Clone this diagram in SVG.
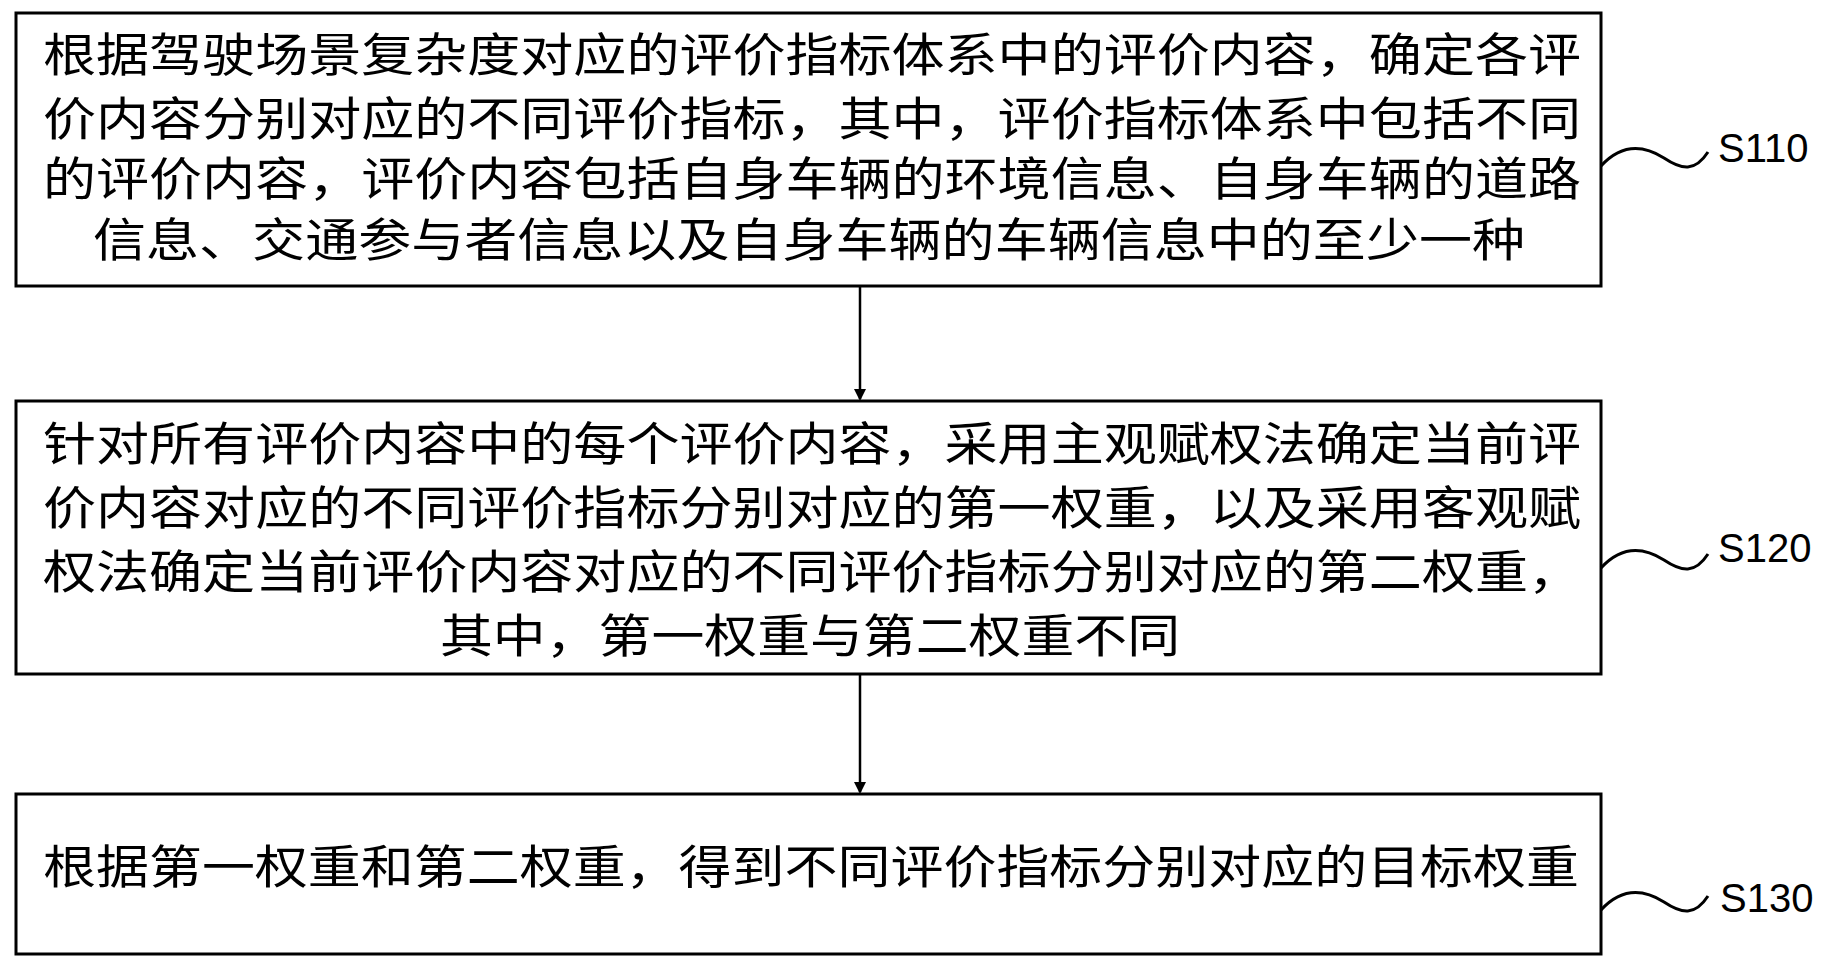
<svg xmlns="http://www.w3.org/2000/svg" width="1833" height="961" viewBox="0 0 1833 961">
<style>
.box{fill:#fff;stroke:#000;stroke-width:3}
.t{font-family:"Noto Sans CJK SC","Liberation Serif",serif;font-size:46px;fill:#000}
.lb{font-family:"Liberation Sans",sans-serif;font-size:40px;fill:#000}
.w{fill:none;stroke:#000;stroke-width:3}
.c{stroke:#000;stroke-width:2.5;fill:none}
</style>
<defs><marker id="a" markerWidth="12" markerHeight="12" refX="10" refY="6" orient="auto" markerUnits="userSpaceOnUse"><path d="M0,0 L12,6 L0,12 Z" fill="#000"/></marker></defs>
<rect width="1833" height="961" fill="#fff"/>
<g id="n1">
<rect class="box" x="16" y="13" width="1585" height="273"/>
<text class="t" x="43" y="71" textLength="1538" lengthAdjust="spacingAndGlyphs">根据驾驶场景复杂度对应的评价指标体系中的评价内容，确定各评</text>
<text class="t" x="43" y="135" textLength="1538" lengthAdjust="spacingAndGlyphs">价内容分别对应的不同评价指标，其中，评价指标体系中包括不同</text>
<text class="t" x="43" y="195" textLength="1538" lengthAdjust="spacingAndGlyphs">的评价内容，评价内容包括自身车辆的环境信息、自身车辆的道路</text>
<text class="t" x="93" y="256" textLength="1432" lengthAdjust="spacingAndGlyphs">信息、交通参与者信息以及自身车辆的车辆信息中的至少一种</text>
<text class="lb" x="1718" y="162">S110</text>
<path class="w" d="M1601,166 C1625,140 1648,148 1664,158 C1682,170 1695,172 1708,152"/>
</g>
<g id="n2">
<rect class="box" x="16" y="401" width="1585" height="273"/>
<text class="t" x="43" y="460" textLength="1538" lengthAdjust="spacingAndGlyphs">针对所有评价内容中的每个评价内容，采用主观赋权法确定当前评</text>
<text class="t" x="43" y="524" textLength="1538" lengthAdjust="spacingAndGlyphs">价内容对应的不同评价指标分别对应的第一权重，以及采用客观赋</text>
<text class="t" x="43" y="588" textLength="1538" lengthAdjust="spacingAndGlyphs">权法确定当前评价内容对应的不同评价指标分别对应的第二权重，</text>
<text class="t" x="440" y="652" textLength="740" lengthAdjust="spacingAndGlyphs">其中，第一权重与第二权重不同</text>
<text class="lb" x="1718" y="562">S120</text>
<path class="w" d="M1601,568 C1625,542 1648,550 1664,560 C1682,572 1695,574 1708,554"/>
</g>
<g id="n3">
<rect class="box" x="16" y="794" width="1585" height="160"/>
<text class="t" x="43" y="883" textLength="1536" lengthAdjust="spacingAndGlyphs">根据第一权重和第二权重，得到不同评价指标分别对应的目标权重</text>
<text class="lb" x="1720" y="912">S130</text>
<path class="w" d="M1601,910 C1625,884 1648,892 1664,902 C1682,914 1695,916 1708,896"/>
</g>
<g id="connectors">
<line class="c" x1="860" y1="286" x2="860" y2="399" marker-end="url(#a)"/>
<line class="c" x1="860" y1="674" x2="860" y2="792" marker-end="url(#a)"/>
</g>
</svg>
